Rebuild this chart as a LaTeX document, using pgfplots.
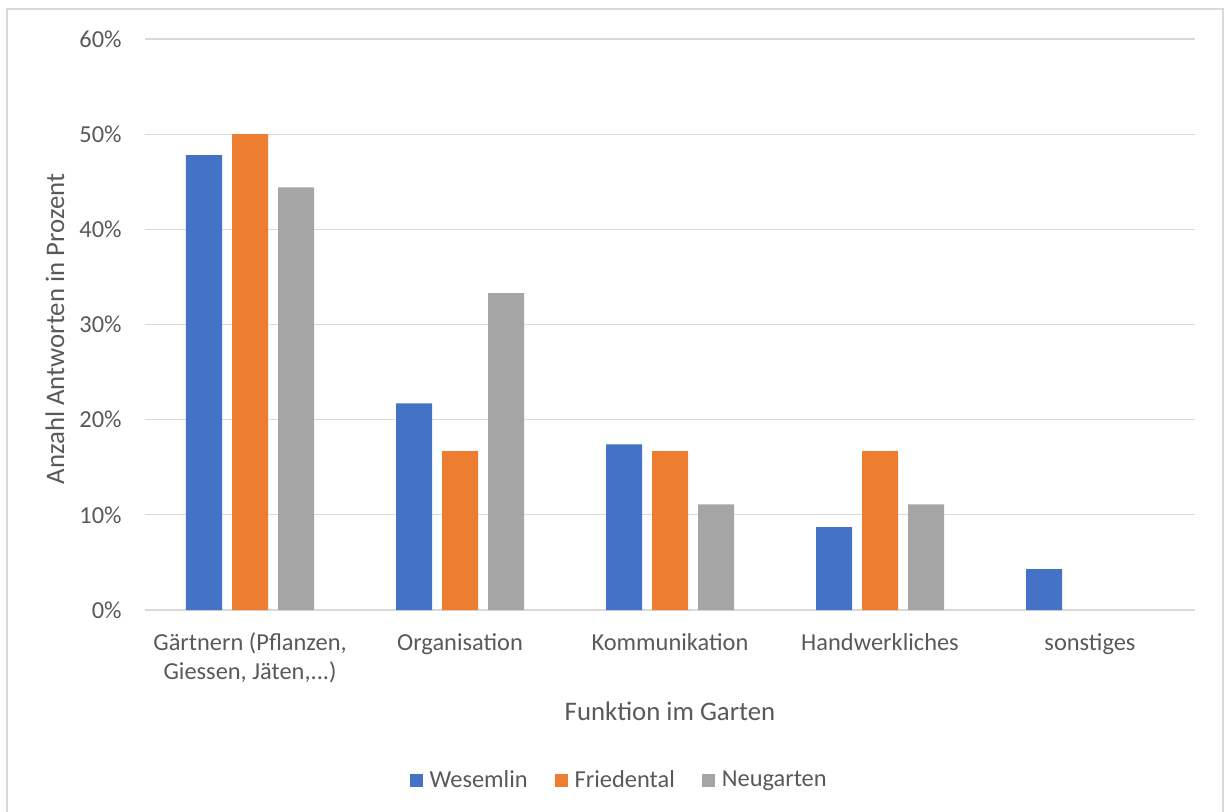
\documentclass[border=0pt]{standalone}
\usepackage{pgfplots}
\pgfplotsset{compat=1.18}
\usepackage{fontspec}
\setmainfont{Carlito}

\definecolor{wblue}{HTML}{4472C4}
\definecolor{forange}{HTML}{ED7D31}
\definecolor{ngray}{HTML}{A5A5A5}
\definecolor{txtgray}{HTML}{595959}
\definecolor{linegray}{HTML}{D9D9D9}

\newcommand\ticksize{\fontsize{12.2}{14.5}\selectfont}
\newcommand\titlesize{\fontsize{13.4}{16}\selectfont}
% three full stops, kept out of the tick list parser
\newcommand\etc{...}

\begin{document}
\begin{tikzpicture}
\path[use as bounding box] (0pt,0pt) rectangle (612.5pt,-406pt);
% chart frame (open at the bottom edge)
\draw[linegray, line width=0.75pt] (3.6pt,-407pt) -- (3.6pt,-4.6pt) -- (611.6pt,-4.6pt) -- (611.6pt,-407pt);

\begin{axis}[
  at={(72.5pt,-305pt)}, anchor=south west,
  scale only axis, width=525pt, height=285.5pt,
  xmin=-0.5, xmax=4.5, ymin=0, ymax=60,
  ybar=5pt, bar width=18pt,
  axis line style={draw=none},
  major tick length=0pt,
  ymajorgrids, grid style={linegray, line width=0.65pt},
  ytick={0,10,20,30,40,50,60},
  yticklabels={0\%,10\%,20\%,30\%,40\%,50\%,60\%},
  yticklabel style={font=\ticksize, text=txtgray, inner sep=0pt, anchor=east, xshift=-11.5pt},
  xtick={0,1,2,3,4},
  xticklabels={{\strut Gärtnern (Pflanzen,\\Giessen, Jäten,\etc)},{\strut Organisation},{\strut Kommunikation},{\strut Handwerkliches},{\strut sonstiges}},
  xticklabel style={font=\ticksize, text=txtgray, inner sep=0pt, anchor=north, align=center, yshift=-9.85pt},
  legend columns=3,
  legend style={draw=none, fill=none, at={(axis description cs:0.452,-0.298)}, anchor=center,
    font=\ticksize, text=txtgray,
    /tikz/every odd column/.append style={column sep=2pt},
    /tikz/every even column/.append style={column sep=12pt},
    nodes={inner sep=1.5pt}},
  legend image code/.code={\fill[#1] (0pt,-3.25pt) rectangle (6.5pt,3.25pt);},
]
\addplot[fill=wblue, draw=none] coordinates {(0,47.8) (1,21.7) (2,17.4) (3,8.7) (4,4.3)};
\addlegendentry{Wesemlin}
% no answers in "sonstiges" for Friedental and Neugarten
\addplot[fill=forange, draw=none] coordinates {(0,50.0) (1,16.7) (2,16.7) (3,16.7)};
\addlegendentry{Friedental}
\addplot[fill=ngray, draw=none] coordinates {(0,44.4) (1,33.3) (2,11.1) (3,11.1)};
\addlegendentry{Neugarten}
\end{axis}

\node[anchor=base, font=\titlesize, text=txtgray] at (335pt,-360pt) {Funktion im Garten};
\node[anchor=base, rotate=90, font=\titlesize, text=txtgray] at (32pt,-164.5pt) {Anzahl Antworten in Prozent};
\end{tikzpicture}
\end{document}
